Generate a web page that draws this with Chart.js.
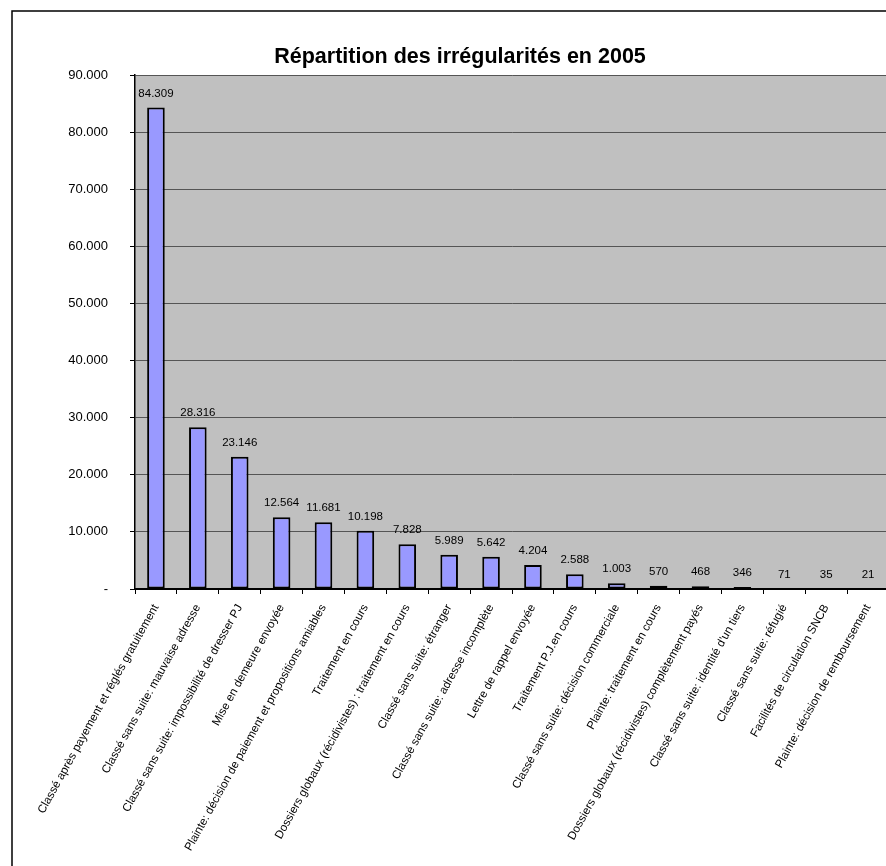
<!DOCTYPE html>
<html lang="fr">
<head>
<meta charset="utf-8">
<title>Répartition des irrégularités en 2005</title>
<script src="https://cdn.jsdelivr.net/npm/chart.js@4/dist/chart.umd.min.js"></script>
<style>
  html, body { margin: 0; padding: 0; background: #fff; overflow: hidden; }
  #wrap { position: relative; width: 886px; height: 866px; overflow: hidden; }
  canvas { display: block; }
</style>
</head>
<body>
<div id="wrap"><canvas id="chart" width="892" height="866"></canvas></div>
<script>
// Chart title
const chartTitle = 'Répartition des irrégularités en 2005';

// Categories of irregularities
const categories = [
  'Classé après payement et réglés gratuitement',
  'Classé sans suite: mauvaise adresse',
  'Classé sans suite: impossibilité de dresser PJ',
  'Mise en demeure envoyée',
  'Plainte: décision de paiement et propositions amiables',
  'Traitement en cours',
  'Dossiers globaux (récidivistes) : traitement en cours',
  'Classé sans suite: étranger',
  'Classé sans suite: adresse incomplète',
  'Lettre de rappel envoyée',
  'Traitement P.J.en cours',
  'Classé sans suite: décision commerciale',
  'Plainte: traitement en cours',
  'Dossiers globaux (récidivistes) complètement payés',
  "Classé sans suite: identité d'un tiers",
  'Classé sans suite: réfugié',
  'Facilités de circulation SNCB',
  'Plainte: décision de remboursement'
];

// Number of cases per category
const counts = [84309, 28316, 23146, 12564, 11681, 10198, 7828, 5989, 5642, 4204, 2588, 1003, 570, 468, 346, 71, 35, 21];

// Value axis
const yMin = 0;
const yMax = 90000;
const yStep = 10000;

// Numbers use a dot as thousands separator; zero is shown as a dash
function formatNumber(v) {
  if (v === 0) return '-';
  return String(Math.round(v)).replace(/\B(?=(\d{3})+(?!\d))/g, '.');
}

const FONT = "'Liberation Sans', Arial, Helvetica, sans-serif";

// Frame, grey plot background and title
const backdrop = {
  id: 'backdrop',
  beforeDraw(chart) {
    const { ctx, chartArea: a } = chart;
    ctx.save();
    ctx.fillStyle = '#ffffff';
    ctx.fillRect(0, 0, chart.width, chart.height);
    ctx.fillStyle = '#c0c0c0';
    ctx.fillRect(a.left, a.top, a.right - a.left, a.bottom - a.top);
    ctx.strokeStyle = '#000';
    ctx.lineWidth = 1.5;
    ctx.beginPath();
    ctx.moveTo(12, chart.height + 10);
    ctx.lineTo(12, 11);
    ctx.lineTo(chart.width + 10, 11);
    ctx.stroke();
    ctx.fillStyle = '#000';
    ctx.font = 'bold 21.5px ' + FONT;
    ctx.textAlign = 'center';
    ctx.textBaseline = 'alphabetic';
    ctx.fillText(chartTitle, 460, 63);
    ctx.restore();
  }
};

// Value written above each bar
const valueLabels = {
  id: 'valueLabels',
  afterDatasetsDraw(chart) {
    const { ctx } = chart;
    const meta = chart.getDatasetMeta(0);
    const values = chart.data.datasets[0].data;
    ctx.save();
    ctx.fillStyle = '#000';
    ctx.font = '11.5px ' + FONT;
    ctx.textAlign = 'center';
    ctx.textBaseline = 'alphabetic';
    meta.data.forEach((bar, i) => {
      ctx.fillText(formatNumber(values[i]), bar.x, bar.y - 11);
    });
    ctx.restore();
  }
};

new Chart(document.getElementById('chart'), {
  type: 'bar',
  data: {
    labels: categories,
    datasets: [{
      data: counts,
      backgroundColor: '#9999ff',
      borderColor: '#000000',
      borderWidth: 2,
      borderSkipped: false,
      barPercentage: 0.42,
      categoryPercentage: 1.0
    }]
  },
  options: {
    responsive: false,
    animation: false,
    devicePixelRatio: 1,
    layout: { padding: { top: 75, right: 3, bottom: 0, left: 0 } },
    plugins: {
      legend: { display: false },
      title: { display: false },
      tooltip: { enabled: false }
    },
    scales: {
      x: {
        grid: {
          offset: true,
          drawOnChartArea: false,
          drawTicks: true,
          tickLength: 5,
          tickColor: '#000',
          tickWidth: 1
        },
        border: { color: '#000', width: 2 },
        ticks: {
          autoSkip: false,
          maxRotation: 61,
          minRotation: 61,
          padding: 8,
          color: '#000',
          font: { family: FONT, size: 11.6 }
        },
        afterFit(scale) { scale.height = 277; }
      },
      y: {
        min: yMin,
        max: yMax,
        grid: {
          color: '#555555',
          lineWidth: 1,
          drawTicks: true,
          tickLength: 5,
          tickColor: '#000'
        },
        border: { color: '#000', width: 1.5 },
        ticks: {
          stepSize: yStep,
          padding: 22,
          color: '#000',
          font: { family: FONT, size: 13 },
          callback: (v) => formatNumber(v)
        },
        afterFit(scale) { scale.width = 135; }
      }
    }
  },
  plugins: [backdrop, valueLabels]
});
</script>
</body>
</html>
